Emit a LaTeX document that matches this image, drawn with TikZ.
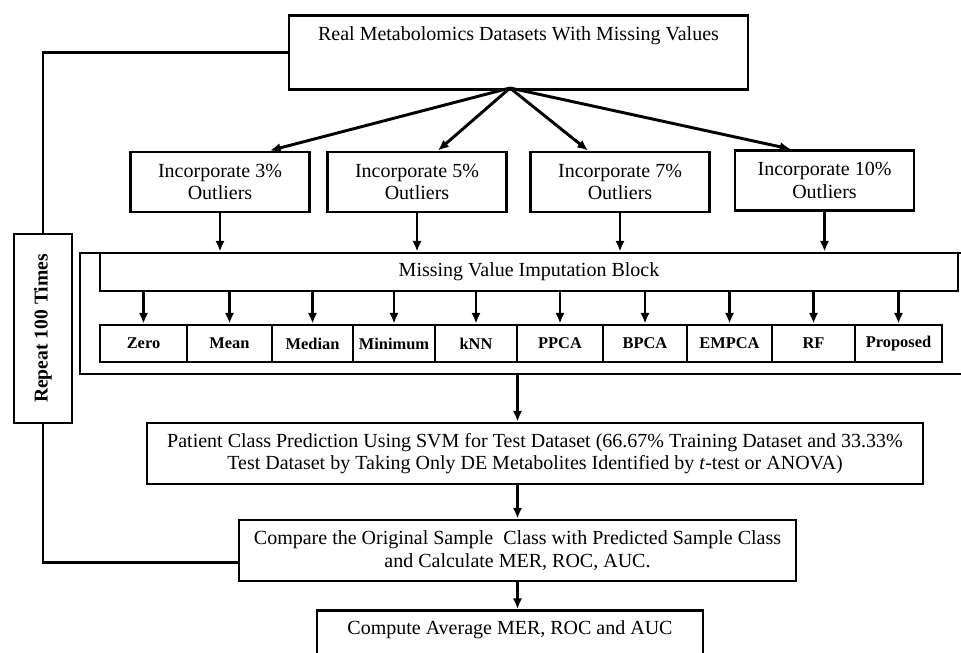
\documentclass[tikz,border=0pt]{standalone}
\usepackage{fontspec}
\setmainfont{Liberation Serif}
\usetikzlibrary{arrows.meta,calc}
\newdimen\pxw \pxw=0.75pt

\begin{document}
\begin{tikzpicture}[
    x=0.75pt, y=-0.75pt,
    >={Latex[length=8pt,width=7pt]},
    line width=2.2pt,
    font=\fontsize{15}{17}\selectfont,
    box/.style={
        draw, rectangle, line width=2.2pt, align=center, inner sep=0pt
    },
    outl/.style={
        box, minimum width=179\pxw, minimum height=60\pxw
    },
    method/.style={
        box, minimum height=37\pxw, font=\fontsize{12.3}{14}\selectfont\bfseries
    },
    tall/.style={
        box, minimum height=61\pxw
    }
]
\useasboundingbox (0,0) rectangle (961,653);
\clip (0,0) rectangle (961,653);

\node[box, anchor=north, minimum width=459\pxw, text height=25\pxw, text depth=49\pxw] (data) at (518.5,14) {Real Metabolomics Datasets With Missing Values};

\node[outl] (o3) at (220,182) {Incorporate 3\%\\Outliers};
\node[outl] (o5) at (417,182) {Incorporate 5\%\\Outliers};
\node[outl] (o7) at (620,182) {Incorporate 7\%\\Outliers};
\node[outl] (o10) at (824.5,180.5) {Incorporate 10\%\\Outliers};

\node[box, minimum width=900\pxw, minimum height=121\pxw] (outer) at (530,313.5) {};
\node[box, minimum width=858\pxw, minimum height=38\pxw] (imp) at (529,272) {Missing Value Imputation Block};

\node[box, rotate=90, minimum width=189\pxw, minimum height=58\pxw, font=\fontsize{14.7}{17}\selectfont\bfseries] (rep) at (43,328.5) {Repeat 100 Times};

\node[tall, minimum width=776\pxw] (svm) at (535,453.5) {Patient Class Prediction Using SVM for Test Dataset (66.67\% Training Dataset and 33.33\%\\Test Dataset by Taking Only DE Metabolites Identified by \textit{t}-test or ANOVA)};
\node[tall, minimum width=557\pxw] (cmp) at (517.5,550.5) {Compare the Original Sample\ \ Class with Predicted Sample Class\\and Calculate MER, ROC, AUC.};
\node[box, anchor=north, minimum width=386\pxw, text height=24\pxw, text depth=60\pxw] (avg) at (510,609) {Compute Average MER, ROC and AUC};

% imputation methods
\foreach \l/\r/\n/\t in {100/187/zero/Zero, 187/272/mean/Mean, 272/353/median/Median,
    353/435/minimum/Minimum, 435/517/knn/kNN, 517/603/ppca/PPCA, 603/687/bpca/BPCA,
    687/772/empca/EMPCA, 772/855/rf/RF, 855/942/prop/Proposed} {
    \node[method, minimum width={(\r-\l)*0.75pt}] (\n) at ({(\l+\r)/2},343.5) {\t};
    \draw[->] (\n.north |- imp.south) -- (\n.north);
}

\coordinate (fan) at (510,88);
\draw[->] (fan) -- ($(o3.north)+(50,0)$);
\draw[->] (fan) -- ($(o5.north)+(21,0)$);
\draw[->] (fan) -- ($(o7.north)+(-32,0)$);
\draw[->] (fan) -- ($(o10.north)+(-34,0)$);

\foreach \o in {o3,o5,o7,o10}
    \draw[->] (\o.south) -- (\o.south |- imp.north);

\draw[->] (outer.south -| cmp.north) -- (svm.north -| cmp.north);
\draw[->] (svm.south -| cmp.north) -- (cmp.north);
\draw[->] (cmp.south) -- (avg.north -| cmp.south);

% repeat loop
\draw (data.west) -| (rep.east);
\draw (rep.west) |- ($(cmp.west)+(0,12)$);
\end{tikzpicture}
\end{document}
